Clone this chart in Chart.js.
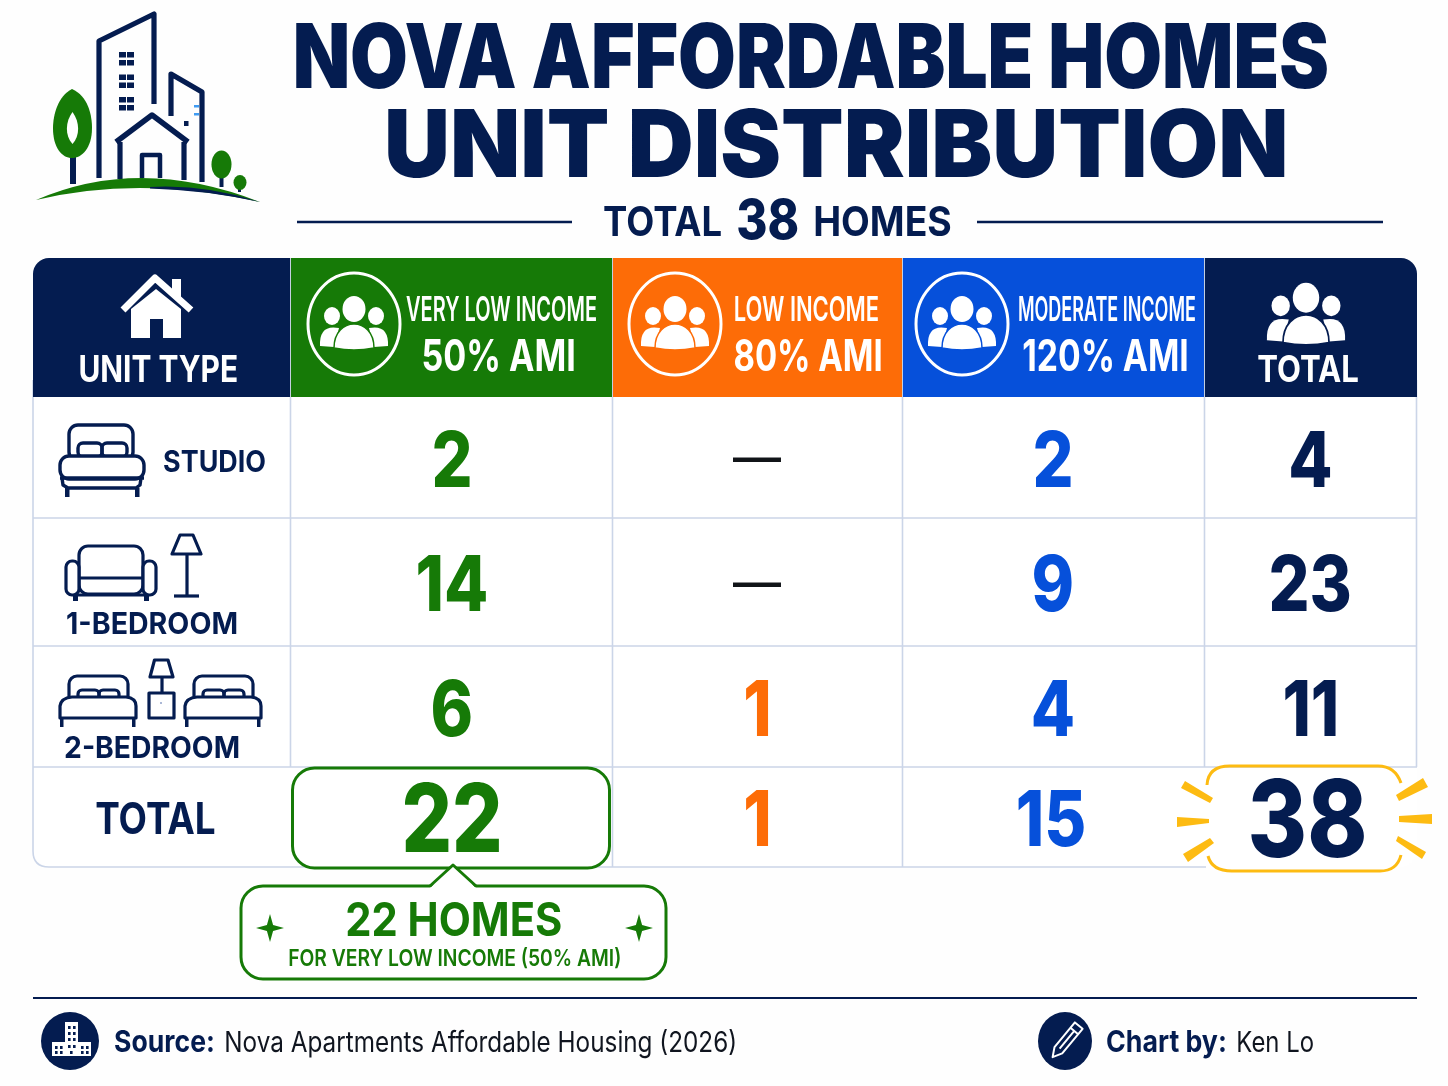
<!DOCTYPE html>
<html><head><meta charset="utf-8">
<style>html,body{margin:0;padding:0;background:#fff}canvas{display:block}</style>
<script src="https://cdn.jsdelivr.net/npm/chart.js@4"></script>
</head><body>
<canvas id="c" width="1448" height="1086" style="width:1448px;height:1086px"></canvas>
<script>
// ---- data ----
const titleLines = ['NOVA AFFORDABLE HOMES', 'UNIT DISTRIBUTION'];
const unitTypes = ['STUDIO', '1-BEDROOM', '2-BEDROOM', 'TOTAL'];
const veryLowIncome = [2, 14, 6, 22];
const lowIncome = [null, null, 1, 1];
const moderateIncome = [2, 9, 4, 15];
const rowTotals = [4, 23, 11, 38];
const homesTotal = 38;
const homesVeryLow = 22;

// ---- layout and style (separate from the data) ----
const colEdges = [33, 290, 612, 902, 1204, 1417];
const rowEdges = [258, 397, 518, 646, 767, 867];
const NAVY = '#041c50', GREEN = '#167a07', ORANGE = '#fd6c07', BLUE = '#0650da', YELLOW = '#fdbb12', GRID = '#cbd5e8';
const seriesColors = [GREEN, ORANGE, BLUE, NAVY];
const FF = 'Inter, Roboto, "Noto Sans", sans-serif';

function cellPoints(values, col) {
  const cx = (colEdges[col] + colEdges[col + 1]) / 2;
  return values.map((v, r) => ({ x: cx, y: (rowEdges[r + 1] + rowEdges[r + 2]) / 2, v }));
}
function capSize(ctx, weight, h, fam) {
  ctx.font = weight + ' 100px ' + (fam || FF);
  const a = ctx.measureText('H').actualBoundingBoxAscent;
  return h * 100 / a;
}
// ink-fitted text: left ink edge x0, right ink edge x1, baseline y, cap height h
function T(ctx, text, x0, x1, y, h, color, weight) {
  ctx.save();
  const w = weight || 700;
  const fs = capSize(ctx, w, h);
  ctx.font = w + ' ' + fs + 'px ' + FF;
  ctx.textBaseline = 'alphabetic'; ctx.textAlign = 'left';
  const m = ctx.measureText(text);
  const ink = m.actualBoundingBoxRight + m.actualBoundingBoxLeft;
  const sx = (x1 - x0) / ink;
  ctx.translate(x0, y); ctx.scale(sx, 1);
  ctx.fillStyle = color;
  ctx.fillText(text, m.actualBoundingBoxLeft, 0);
  ctx.restore();
}
// centred value label with digit height h
function V(ctx, text, cx, cy, h, sx, color) {
  ctx.save();
  const fs = capSize(ctx, 800, h);
  ctx.font = '800 ' + fs + 'px ' + FF;
  ctx.textAlign = 'left'; ctx.textBaseline = 'alphabetic';
  const m = ctx.measureText(text);
  const ink = m.actualBoundingBoxRight + m.actualBoundingBoxLeft;
  ctx.translate(cx, cy + h / 2); ctx.scale(sx, 1);
  ctx.fillStyle = color;
  ctx.fillText(text, -ink / 2 + m.actualBoundingBoxLeft, 0);
  ctx.restore();
}
// em dash fitted to a box
function dash(ctx, cx, cy, w, h, color) {
  ctx.save();
  ctx.font = '700 60px ' + FF; ctx.textBaseline = 'alphabetic'; ctx.textAlign = 'left';
  const m = ctx.measureText('—');
  const iw = m.actualBoundingBoxRight + m.actualBoundingBoxLeft;
  const ih = m.actualBoundingBoxAscent + m.actualBoundingBoxDescent;
  ctx.translate(cx - w / 2, cy - h / 2); ctx.scale(w / iw, h / ih);
  ctx.fillStyle = color;
  ctx.fillText('—', m.actualBoundingBoxLeft, m.actualBoundingBoxAscent);
  ctx.restore();
}
function line(ctx, pts, w, color, cap) {
  ctx.beginPath();
  pts.forEach((p, i) => i ? ctx.lineTo(p[0], p[1]) : ctx.moveTo(p[0], p[1]));
  ctx.lineWidth = w; ctx.strokeStyle = color; ctx.lineCap = cap || 'butt'; ctx.lineJoin = 'round';
  ctx.stroke();
}
function poly(ctx, pts, color) {
  ctx.beginPath();
  pts.forEach((p, i) => i ? ctx.lineTo(p[0], p[1]) : ctx.moveTo(p[0], p[1]));
  ctx.closePath(); ctx.fillStyle = color; ctx.fill();
}
function ell(ctx, x, y, rx, ry, color) {
  ctx.beginPath(); ctx.ellipse(x, y, rx, ry, 0, 0, Math.PI * 2); ctx.fillStyle = color; ctx.fill();
}
function rr(ctx, x, y, w, h, r, stroke, lw, fill) {
  ctx.beginPath(); ctx.roundRect(x, y, w, h, r);
  if (fill) { ctx.fillStyle = fill; ctx.fill(); }
  if (stroke) { ctx.strokeStyle = stroke; ctx.lineWidth = lw; ctx.stroke(); }
}
function people(ctx, cx, cy, s, fg, bg) {
  ctx.save(); ctx.translate(cx, cy); ctx.scale(s, s);
  const side = (d) => {
    ell(ctx, d * 22, -8, 8, 9, fg);
    ctx.beginPath();
    ctx.moveTo(d * 15, 4);
    ctx.quadraticCurveTo(d * 35, 0, d * 34, 22);
    ctx.lineTo(d * 20, 23); ctx.closePath();
    ctx.fillStyle = fg; ctx.fill();
  };
  side(-1); side(1);
  ell(ctx, 0, -15, 11.5, 13, fg);
  ctx.beginPath();
  ctx.moveTo(-20, 24);
  ctx.bezierCurveTo(-20, -8, 20, -8, 20, 24);
  ctx.quadraticCurveTo(0, 28, -20, 24);
  ctx.closePath();
  ctx.fillStyle = fg; ctx.fill();
  ctx.lineWidth = 1.5; ctx.strokeStyle = bg; ctx.stroke();
  ctx.restore();
}
function circledPeople(ctx, cx, cy, bg) {
  ctx.beginPath(); ctx.ellipse(cx, cy, 46, 51, 0, 0, Math.PI * 2);
  ctx.lineWidth = 3; ctx.strokeStyle = '#fff'; ctx.stroke();
  people(ctx, cx, cy, 1, '#fff', bg);
}
function bedStudio(ctx) {
  const c = NAVY, w = 3.4;
  rr(ctx, 69, 425, 64, 36, 9, c, w);
  rr(ctx, 78, 443, 24, 14, 5, c, w);
  rr(ctx, 102, 443, 25, 14, 5, c, w);
  rr(ctx, 60, 456, 84, 23, 9, c, w, '#fff');
  line(ctx, [[60, 478], [144, 478]], w, c);
  line(ctx, [[62, 478], [63, 485], [68, 488], [136, 488], [140, 485], [141, 478]], w, c);
  ctx.fillStyle = c; ctx.fillRect(65, 488, 4.5, 9); ctx.fillRect(135, 488, 4.5, 9);
}
function sofaLamp(ctx) {
  const c = NAVY, w = 3.2;
  rr(ctx, 79, 546, 64, 48, 9, c, w);
  line(ctx, [[80, 578], [142, 578]], w, c);
  rr(ctx, 66, 561, 13, 34, 6, c, w, '#fff');
  rr(ctx, 143, 561, 13, 34, 6, c, w, '#fff');
  line(ctx, [[76, 595], [146, 595]], w, c);
  ctx.fillStyle = c; ctx.fillRect(73, 596, 5, 5); ctx.fillRect(144, 596, 5, 5);
  ctx.beginPath(); ctx.moveTo(180, 535); ctx.lineTo(193, 535); ctx.lineTo(201, 554); ctx.lineTo(172, 554); ctx.closePath();
  ctx.lineWidth = w; ctx.strokeStyle = c; ctx.lineJoin = 'round'; ctx.stroke();
  line(ctx, [[187, 554], [187, 595]], w, c);
  line(ctx, [[174, 596], [199, 596]], w, c);
}
function smallBed(ctx, o) {
  const c = NAVY, w = 3.2;
  ctx.save(); ctx.translate(o, 0);
  rr(ctx, 69, 676, 59, 30, 8, c, w);
  rr(ctx, 78, 690, 21, 12, 4, c, w);
  rr(ctx, 99, 690, 20, 12, 4, c, w);
  ctx.beginPath(); ctx.moveTo(60, 718); ctx.lineTo(60, 706); ctx.quadraticCurveTo(61, 698, 72, 697); ctx.lineTo(126, 697); ctx.quadraticCurveTo(136, 698, 136, 706); ctx.lineTo(136, 718); ctx.closePath();
  ctx.fillStyle = '#fff'; ctx.fill(); ctx.lineWidth = w; ctx.strokeStyle = c; ctx.stroke();
  ctx.fillStyle = c; ctx.fillRect(60, 718, 3.5, 9); ctx.fillRect(132, 718, 3.5, 9);
  ctx.restore();
}
function twoBeds(ctx) {
  smallBed(ctx, 0); smallBed(ctx, 125);
  const c = NAVY, w = 3.2;
  ctx.beginPath(); ctx.moveTo(154.5, 660); ctx.lineTo(168, 660); ctx.lineTo(173, 677); ctx.lineTo(150, 677); ctx.closePath();
  ctx.lineWidth = w; ctx.strokeStyle = c; ctx.lineJoin = 'round'; ctx.stroke();
  line(ctx, [[162, 677], [162, 693]], w, c);
  ctx.strokeStyle = c; ctx.lineWidth = w; ctx.strokeRect(149, 693, 25, 25);
  ell(ctx, 161, 703, 1, 1, '#8fa0c8');
}
function logo(ctx) {
  const c = NAVY, g = GREEN, w = 5.2;
  line(ctx, [[99, 178], [99, 41], [154, 14], [154, 104]], w, c);
  ctx.fillStyle = c;
  [52, 74.5, 97].forEach(y => {
    ctx.fillRect(119, y, 7, 5.5); ctx.fillRect(127, y, 7, 5.5);
    ctx.fillRect(119, y + 8, 7, 5.5); ctx.fillRect(127, y + 8, 7, 5.5);
  });
  line(ctx, [[171, 116], [171, 74], [202, 92], [202, 182]], w, c);
  ctx.fillStyle = '#3f9bf2'; ctx.fillRect(194, 105, 5, 2.5); ctx.fillRect(194, 113, 5, 2.5);
  ctx.fillStyle = c; ctx.fillRect(184, 121, 4.5, 5);
  line(ctx, [[116, 142], [152, 115], [188, 142]], 5.5, c);
  line(ctx, [[120, 142], [120, 179]], w, c);
  line(ctx, [[184, 142], [184, 180]], w, c);
  line(ctx, [[142, 178], [142, 155], [160, 155], [160, 178]], 4.5, c);
  // trees
  ctx.fillStyle = c; ctx.fillRect(70, 156, 6, 28); ctx.fillRect(219.5, 176, 4, 11); ctx.fillRect(238, 186, 3, 6);
  ctx.beginPath(); ctx.moveTo(72, 89);
  ctx.bezierCurveTo(88, 96, 92, 115, 92, 128);
  ctx.bezierCurveTo(92, 148, 82, 158, 72, 158);
  ctx.bezierCurveTo(62, 158, 53, 148, 53, 128);
  ctx.bezierCurveTo(53, 115, 58, 96, 72, 89);
  ctx.closePath(); ctx.fillStyle = g; ctx.fill();
  ctx.beginPath(); ctx.moveTo(72.5, 112); ctx.bezierCurveTo(80, 122, 80, 136, 72.5, 144); ctx.bezierCurveTo(65, 136, 65, 122, 72.5, 112); ctx.closePath(); ctx.fillStyle = '#fff'; ctx.fill();
  ell(ctx, 221.5, 164.5, 10, 14, g);
  ell(ctx, 240, 182.5, 6.5, 7.5, g);
  // ground: green crescent with a navy sliver under its right side
  ctx.beginPath(); ctx.moveTo(36, 200); ctx.quadraticCurveTo(140, 155, 260, 202); ctx.quadraticCurveTo(140, 175, 36, 200); ctx.closePath(); ctx.fillStyle = g; ctx.fill();
  ctx.beginPath(); ctx.moveTo(150, 187); ctx.quadraticCurveTo(205, 184, 260, 202); ctx.quadraticCurveTo(205, 190, 150, 188.5); ctx.closePath(); ctx.fillStyle = c; ctx.fill();
}
function homeIcon(ctx) {
  const f = '#fff';
  poly(ctx, [[172, 279], [181, 279], [181, 297], [172, 297]], f);
  line(ctx, [[123, 310], [155, 278], [191, 310]], 7, f);
  poly(ctx, [[131, 338], [131, 309], [156, 289], [181, 309], [181, 338], [163, 338], [163, 319], [150, 319], [150, 338]], f);
}
function sparkle(ctx, x, y, r, color) {
  const k = r * 0.22;
  poly(ctx, [[x, y - r], [x + k, y - k], [x + r, y], [x + k, y + k], [x, y + r], [x - k, y + k], [x - r, y], [x - k, y - k]], color);
}

const tablePlugin = {
  id: 'tablePlugin',
  beforeDatasetsDraw(chart) {
    const ctx = chart.ctx, xs = chart.scales.x, ys = chart.scales.y;
    ctx.save();
    ctx.translate(xs.getPixelForValue(0), ys.getPixelForValue(0));
    ctx.fillStyle = '#fefefe'; ctx.fillRect(0, 0, 1448, 1086);
    logo(ctx);
    // titles
    T(ctx, titleLines[0], 296, 1327, 88, 65, NAVY, 900);
    T(ctx, titleLines[1], 388, 1285, 177, 68, NAVY, 900);
    line(ctx, [[297, 222], [572, 222]], 2.5, NAVY);
    line(ctx, [[977, 222], [1383, 222]], 2.5, NAVY);
    T(ctx, 'TOTAL', 604, 721, 236, 30, NAVY, 700);
    T(ctx, String(homesTotal), 738, 798, 239, 40, NAVY, 800);
    T(ctx, 'HOMES', 815, 951, 236, 30, NAVY, 700);

    // body grid
    const [L, , , , , R] = colEdges, bot = rowEdges[5], hb = rowEdges[1], lastB = rowEdges[4];
    rr(ctx, L + .5, rowEdges[0], R - L - 1, bot - rowEdges[0], 16, null, 0, '#fff');
    ctx.beginPath(); ctx.moveTo(L, 380); ctx.lineTo(L, bot - 16); ctx.quadraticCurveTo(L, bot, L + 16, bot); ctx.lineTo(1206, bot);
    ctx.moveTo(R - .5, 380); ctx.lineTo(R - .5, lastB);
    [rowEdges[2], rowEdges[3], lastB].forEach(y => { ctx.moveTo(L, y); ctx.lineTo(R, y); });
    [colEdges[1], colEdges[2], colEdges[3], colEdges[4]].forEach((x, i) => { ctx.moveTo(x + .5, hb); ctx.lineTo(x + .5, i === 2 ? bot : lastB); });
    ctx.moveTo(colEdges[2] + .5, lastB); ctx.lineTo(colEdges[2] + .5, bot);
    ctx.lineWidth = 1.6; ctx.strokeStyle = GRID; ctx.stroke();

    // header
    ctx.save();
    ctx.beginPath(); ctx.roundRect(L, rowEdges[0], R - L, hb - rowEdges[0], [16, 16, 0, 0]); ctx.clip();
    const hdr = [NAVY, GREEN, ORANGE, BLUE, NAVY];
    hdr.forEach((col, i) => { ctx.fillStyle = col; ctx.fillRect(colEdges[i], rowEdges[0], colEdges[i + 1] - colEdges[i], hb - rowEdges[0]); });
    ctx.fillStyle = '#c4cfdf';
    [1, 2, 3, 4].forEach(i => ctx.fillRect(colEdges[i], rowEdges[0], 1, hb - rowEdges[0]));
    ctx.restore();
    homeIcon(ctx);
    T(ctx, 'UNIT TYPE', 80, 237, 382, 27, '#fff', 700);
    circledPeople(ctx, 354, 324, GREEN);
    T(ctx, 'VERY LOW INCOME', 406, 596, 321, 25, '#fff', 600);
    T(ctx, '50% AMI', 423, 574, 371, 32, '#fff', 700);
    circledPeople(ctx, 675, 324, ORANGE);
    T(ctx, 'LOW INCOME', 735, 878, 321, 25, '#fff', 600);
    T(ctx, '80% AMI', 735, 881, 371, 32, '#fff', 700);
    circledPeople(ctx, 962, 324, BLUE);
    T(ctx, 'MODERATE INCOME', 1019, 1195, 321, 25, '#fff', 600);
    T(ctx, '120% AMI', 1023, 1187, 371, 32, '#fff', 700);
    people(ctx, 1306, 315, 1.15, '#fff', NAVY);
    T(ctx, 'TOTAL', 1258, 1358, 382, 27, '#fff', 700);

    // row headers
    bedStudio(ctx);
    T(ctx, unitTypes[0], 164, 265, 472, 22, NAVY, 700);
    sofaLamp(ctx);
    T(ctx, unitTypes[1], 67, 237, 634, 22, NAVY, 700);
    twoBeds(ctx);
    T(ctx, unitTypes[2], 65, 239, 758, 22, NAVY, 700);
    T(ctx, unitTypes[3], 96, 215, 834, 32, NAVY, 700);

    // highlight boxes
    rr(ctx, 292.5, 768, 317, 100, 22, GREEN, 3, '#fff');
    ctx.beginPath();
    ctx.roundRect(241, 886, 425, 93, 22);
    ctx.fillStyle = '#fff'; ctx.fill(); ctx.strokeStyle = GREEN; ctx.lineWidth = 3; ctx.stroke();
    poly(ctx, [[430, 888], [453, 866], [476, 888]], '#fff');
    line(ctx, [[430, 886], [453, 865], [476, 886]], 3, GREEN);
    sparkle(ctx, 270, 928, 14, GREEN);
    sparkle(ctx, 639, 928, 14, GREEN);
    T(ctx, homesVeryLow + ' HOMES', 347, 561, 936, 34, GREEN, 700);
    T(ctx, 'FOR VERY LOW INCOME (50% AMI)', 289, 620, 966, 17, GREEN, 600);

    ctx.fillStyle = '#fff'; ctx.fillRect(1206, 768, 194, 102);
    ctx.beginPath();
    ctx.moveTo(1207, 785); ctx.quadraticCurveTo(1208, 766, 1230, 766); ctx.lineTo(1378, 766); ctx.quadraticCurveTo(1395, 766, 1401, 783);
    ctx.moveTo(1208, 856); ctx.quadraticCurveTo(1212, 871, 1232, 871); ctx.lineTo(1380, 871); ctx.quadraticCurveTo(1397, 871, 1401, 855);
    ctx.strokeStyle = YELLOW; ctx.lineWidth = 3; ctx.stroke();
    [[[1185, 781], [1213, 798], [1210, 803], [1181, 788]],
     [[1177, 817], [1209, 819], [1209, 823], [1177, 827]],
     [[1210, 838], [1214, 843], [1188, 862], [1183, 854]],
     [[1396, 795], [1423, 778], [1428, 787], [1399, 801]],
     [[1399, 816], [1432, 814], [1432, 824], [1399, 822]],
     [[1398, 836], [1426, 852], [1422, 859], [1396, 841]]].forEach(p => poly(ctx, p, YELLOW));

    // footer
    line(ctx, [[33, 998], [1417, 998]], 2.2, NAVY);
    ell(ctx, 70, 1041, 29, 29, NAVY);
    ctx.fillStyle = '#fff';
    ctx.fillRect(65, 1022, 13, 34); ctx.fillRect(52, 1042, 39, 14);
    ctx.fillStyle = NAVY;
    [[68, 1026], [73, 1026], [68, 1032], [73, 1032], [68, 1038], [73, 1038], [55, 1046], [60, 1046], [68, 1045], [73, 1045], [81, 1046], [86, 1046], [55, 1051], [60, 1051], [81, 1051], [86, 1051], [70, 1051]].forEach(p => ctx.fillRect(p[0], p[1], 2.6, 3));
    T(ctx, 'Source:', 115, 213, 1052, 22, NAVY, 700);
    T(ctx, 'Nova Apartments Affordable Housing (2026)', 226, 735, 1052, 21, '#10151f', 400);
    ell(ctx, 1065, 1041, 27, 29, NAVY);
    ctx.save(); ctx.translate(1066, 1041); ctx.rotate(Math.PI * 0.22);
    ctx.strokeStyle = '#fff'; ctx.lineWidth = 2; ctx.lineJoin = 'round';
    ctx.beginPath(); ctx.moveTo(-5, -20); ctx.lineTo(5, -20); ctx.lineTo(5, 12); ctx.lineTo(0, 21); ctx.lineTo(-5, 12); ctx.closePath();
    ctx.moveTo(-5, -13); ctx.lineTo(5, -13); ctx.moveTo(0, -13); ctx.lineTo(0, 10); ctx.stroke();
    ctx.restore();
    T(ctx, 'Chart by:', 1107, 1225, 1052, 22, NAVY, 700);
    T(ctx, 'Ken Lo', 1238, 1313, 1052, 21, '#10151f', 400);
    ctx.restore();
  },
  afterDatasetsDraw(chart) {
    const ctx = chart.ctx;
    chart.data.datasets.forEach((ds, di) => {
      const meta = chart.getDatasetMeta(di);
      meta.data.forEach((el, i) => {
        const v = ds.data[i].v;
        if (v === null) { dash(ctx, el.x, el.y + 2.5, 48, 5, '#111418'); return; }
        let h = 56, sx = 0.84, dy = 1;
        if (i === 3 && di === 0) { h = 69; dy = 0; }
        if (i === 3 && di === 3) { h = 78; sx = 0.85; dy = 1; }
        V(ctx, String(v), el.x - (di === 0 ? -1 : 0) - (di === 3 && i === 3 ? 3 : 0) - (di === 2 && i === 3 ? 2 : 0), el.y + dy, h, sx, ds.textColor);
      });
    });
  }
};

new Chart(document.getElementById('c'), {
  type: 'scatter',
  data: {
    datasets: [
      { label: 'Very Low Income 50% AMI', data: cellPoints(veryLowIncome, 1), textColor: seriesColors[0], pointRadius: 0 },
      { label: 'Low Income 80% AMI', data: cellPoints(lowIncome, 2), textColor: seriesColors[1], pointRadius: 0 },
      { label: 'Moderate Income 120% AMI', data: cellPoints(moderateIncome, 3), textColor: seriesColors[2], pointRadius: 0 },
      { label: 'Total', data: cellPoints(rowTotals, 4), textColor: seriesColors[3], pointRadius: 0 }
    ]
  },
  options: {
    responsive: false, animation: false, devicePixelRatio: 1,
    layout: { padding: 0 },
    plugins: { legend: { display: false }, tooltip: { enabled: false }, title: { display: false } },
    scales: {
      x: { type: 'linear', min: 0, max: 1448, display: false },
      y: { type: 'linear', min: 0, max: 1086, reverse: true, display: false }
    }
  },
  plugins: [tablePlugin]
});
</script>
</body></html>
